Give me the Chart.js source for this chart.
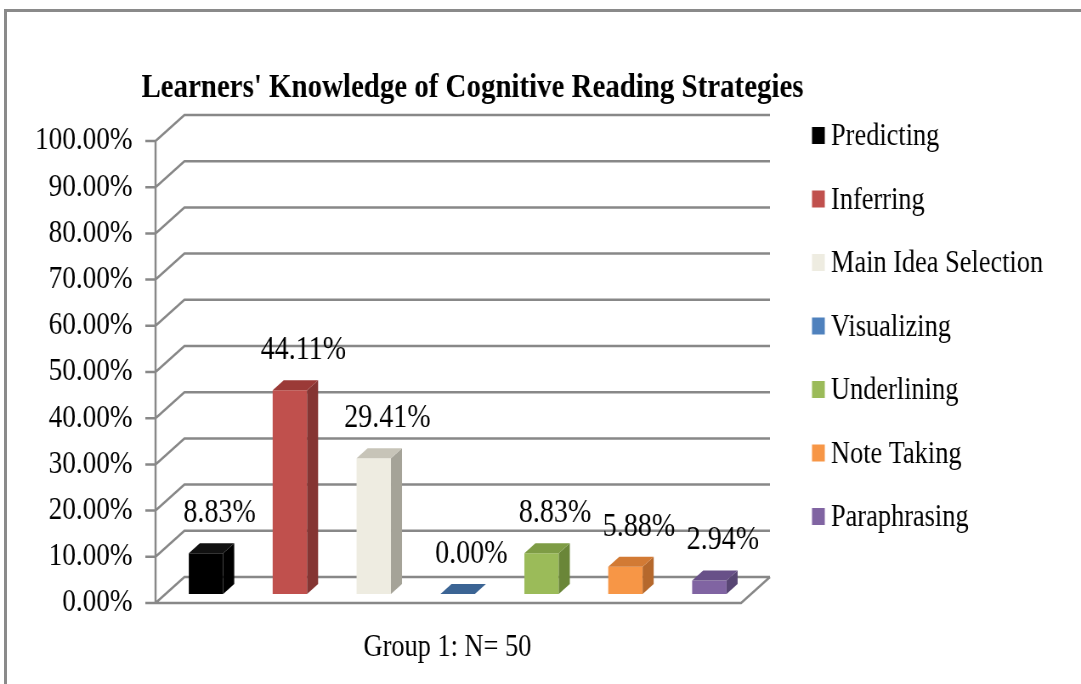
<!DOCTYPE html>
<html>
<head>
<meta charset="utf-8">
<title>Learners' Knowledge of Cognitive Reading Strategies</title>
<script src="https://cdn.jsdelivr.net/npm/chart.js@4.4.1/dist/chart.umd.min.js"></script>
<style>
body { margin:0; background:#fff; overflow:hidden; }
#frame { position:absolute; left:4px; top:9px; width:1100px; height:700px; border-top:3px solid #8a8a8a; border-left:3px solid #8a8a8a; }
#myChart { position:absolute; left:0; top:0; }
</style>
</head>
<body>
<div id="frame"></div>
<!-- canvas is drawn wider and squeezed by css, the original has condensed type -->
<canvas id="myChart" width="1272" height="684" style="width:1081px;height:684px"></canvas>
<script>

var chartTitle = "Learners' Knowledge of Cognitive Reading Strategies";
var groupLabel = ["Group 1: N= 50"];
var strategies = ["Predicting", "Inferring", "Main Idea Selection", "Visualizing", "Underlining", "Note Taking", "Paraphrasing"];
var percents = [8.83, 44.11, 29.41, 0.00, 8.83, 5.88, 2.94];
var yTickValues = [0, 10, 20, 30, 40, 50, 60, 70, 80, 90, 100];

var frontColors = ["#000000", "#C0504D", "#EEECE1", "#4F81BD", "#9BBB59", "#F79646", "#8064A2"];
var sideColors  = ["#000000", "#853533", "#A5A398", "#2F5282", "#6A8638", "#B5682C", "#584674"];
var topColors   = ["#111111", "#9B3A37", "#C7C4B8", "#3B6494", "#7E9C45", "#D27A34", "#685088"];

var SX = 1081 / 1272;   // css squeeze
var serif = "'Liberation Serif', 'Times New Roman', serif";

var datasets = [];
for (var i = 0; i < strategies.length; i++) {
    datasets.push({
        label: strategies[i],
        data: [percents[i]],
        backgroundColor: frontColors[i],
        borderWidth: 0,
        categoryPercentage: 1,
        barPercentage: 0.41
    });
}

// floor, side wall and back wall of the excel style 3d box
var frame3d = {
    id: 'frame3d',
    beforeDatasetsDraw: function(chart) {
        var c = chart.ctx, a = chart.chartArea, ys = chart.scales.y;
        var ax = a.left - 10, fr = a.right - 12, dx = 34, dy = -26, off = 9;
        c.save();
        c.strokeStyle = '#888888';
        c.lineWidth = 2.5;
        c.beginPath();
        yTickValues.forEach(function(v) {
            var py = ys.getPixelForValue(v) + off;
            c.moveTo(ax - 12, py); c.lineTo(ax, py);
            c.moveTo(ax, py); c.lineTo(ax + dx, py + dy);
            c.lineTo(fr + dx, py + dy);
        });
        var y0 = ys.getPixelForValue(0) + off;
        var yTop = ys.getPixelForValue(100) + off;
        c.moveTo(ax, y0); c.lineTo(ax, yTop);
        c.moveTo(ax, y0); c.lineTo(fr, y0); c.lineTo(fr + dx, y0 + dy);
        c.stroke();
        c.restore();
    },
    afterDatasetsDraw: function(chart) {
        var c = chart.ctx, dx = 13, dy = -10;
        c.save();
        chart.data.datasets.forEach(function(ds, i) {
            var meta = chart.getDatasetMeta(i);
            meta.data.forEach(function(bar, j) {
                var p = bar.getProps(['x', 'y', 'base', 'width'], true);
                var l = p.x - p.width / 2, r = p.x + p.width / 2;
                // side
                c.fillStyle = sideColors[i];
                c.beginPath();
                c.moveTo(r, p.y); c.lineTo(r + dx, p.y + dy);
                c.lineTo(r + dx, p.base + dy); c.lineTo(r, p.base);
                c.closePath(); c.fill();
                // top
                c.fillStyle = topColors[i];
                c.beginPath();
                c.moveTo(l, p.y); c.lineTo(l + dx, p.y + dy);
                c.lineTo(r + dx, p.y + dy); c.lineTo(r, p.y);
                c.closePath(); c.fill();
                // value label
                c.fillStyle = '#000';
                c.font = '33px ' + serif;
                c.textAlign = 'center';
                c.textBaseline = 'alphabetic';
                c.fillText(ds.data[j].toFixed(2) + '%', p.x + 16, p.y - 31);
            });
        });
        c.restore();
    },
    afterDraw: function(chart) {
        var c = chart.ctx;
        c.save();
        c.fillStyle = '#000';
        c.font = 'bold 34px ' + serif;
        c.textAlign = 'center';
        c.textBaseline = 'alphabetic';
        c.fillText(chartTitle, 472.5 / SX, 97);

        // legend on the right
        c.font = '31px ' + serif;
        c.textAlign = 'left';
        chart.data.datasets.forEach(function(ds, i) {
            var cy = 135.5 + i * 63.5;
            c.fillStyle = ds.backgroundColor;
            c.fillRect(812 / SX, cy - 8.5, 15, 17);
            c.fillStyle = '#000';
            c.fillText(ds.label, 831 / SX, cy + 9.5);
        });
        c.restore();
    }
};

var myChart1 = new Chart(document.getElementById("myChart"), {
    type: 'bar',
    data: { labels: groupLabel, datasets: datasets },
    plugins: [frame3d],
    options: {
        responsive: false,
        devicePixelRatio: 1,
        animation: false,
        events: [],
        layout: { padding: { left: 0, top: 132, right: 388, bottom: 17 } },
        plugins: {
            legend: { display: false },
            title: { display: false },
            tooltip: { enabled: false }
        },
        scales: {
            x: {
                grid: { display: false, drawTicks: false },
                border: { display: false },
                ticks: {
                    color: '#000',
                    font: { family: serif, size: 31 },
                    padding: 35,
                    labelOffset: -12,
                    maxRotation: 0
                },
                afterFit: function(s) { s.height = 73; }
            },
            y: {
                min: 0,
                max: 100,
                grid: { display: false, drawTicks: false },
                border: { display: false },
                afterBuildTicks: function(s) {
                    s.ticks = yTickValues.map(function(v) { return { value: v }; });
                },
                ticks: {
                    color: '#000',
                    font: { family: serif, size: 32 },
                    padding: 37,
                    labelOffset: 9,
                    callback: function(v) { return Number(v).toFixed(2) + '%'; }
                },
                afterFit: function(s) { s.width = 193; }
            }
        }
    }
});
</script>
</body>
</html>
